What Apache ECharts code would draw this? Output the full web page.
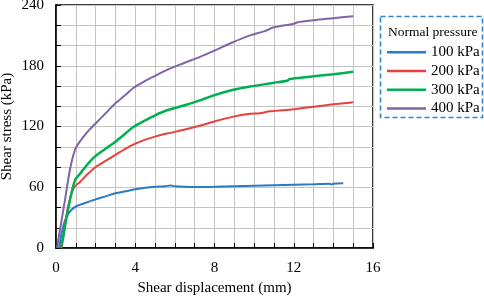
<!DOCTYPE html>
<html>
<head>
<meta charset="utf-8">
<script src="https://cdn.jsdelivr.net/npm/echarts@6/dist/echarts.min.js"></script>
<style>
  html, body { margin: 0; padding: 0; background: #fff; }
  #chart { width: 484px; height: 298px; }
</style>
</head>
<body>
<div id="chart"></div>
<script>
var seriesNames = ['100 kPa', '200 kPa', '300 kPa', '400 kPa'];

var disp100 = [0.15, 0.3, 0.45, 0.6, 0.8, 1.0, 1.4, 2.0, 2.5, 3.0, 3.5, 4.0, 4.5, 5.0, 5.5, 5.8, 6.0, 6.5, 7.0, 8.0, 9.0, 10.0, 11.0, 12.0, 13.0, 13.8, 13.9, 14.0, 14.5];
var stress100 = [0, 16, 27, 33, 38, 41, 44, 48, 51, 54, 56, 58, 59.5, 60.5, 61, 61.8, 61, 60.5, 60.3, 60.5, 61, 61.5, 62, 62.5, 63, 63.5, 62.8, 63.5, 64];

var disp200 = [0.28, 0.4, 0.54, 0.7, 0.8, 0.96, 1.2, 1.6, 2, 2.5, 3, 3.5, 4, 4.5, 5, 5.6, 6.5, 7.3, 8, 8.9, 9.8, 10.3, 10.8, 12, 13, 14, 15];
var stress200 = [0, 15, 34, 48, 55, 61, 65, 73, 80, 86, 92, 98, 103, 107, 110, 113, 117, 121, 125, 129.5, 132.5, 133, 135, 137, 139.5, 142, 144];

var disp300 = [0.2, 0.3, 0.45, 0.7, 0.96, 1.2, 1.6, 2, 2.5, 3, 3.5, 3.9, 4.5, 5, 5.6, 6.5, 7.3, 8, 8.9, 9.8, 10.95, 11.7, 11.8, 12.7, 14, 15];
var stress300 = [0, 5, 21, 47, 67, 73, 83, 91, 98, 105, 113, 119.5, 126, 131, 136, 141, 146, 151, 156, 159.5, 163, 165.5, 167, 169, 171.7, 174];

var disp400 = [0.05, 0.2, 0.45, 0.7, 0.96, 1.2, 1.6, 2, 2.5, 3, 3.5, 3.9, 4.5, 5, 5.6, 6.5, 7.3, 8, 8.9, 9.8, 10.5, 11, 12, 12.2, 13, 14, 15];
var stress400 = [0, 18, 47, 77, 97, 105, 115, 123, 133, 143, 151, 158, 165, 170, 176, 183, 189, 195, 203, 210, 214, 218, 221.5, 223, 225, 227, 229];

var colors = ['#2a7bc6', '#e8413c', '#00b050', '#8064a8'];

function pairs(xs, ys) {
  return xs.map(function(x, i) { return [x, ys[i]]; });
}

var font = 'Liberation Serif';
var myChart = echarts.init(document.getElementById('chart'));

function curve(i, width, xs, ys) {
  return {
    name: seriesNames[i], type: 'line', symbol: 'none',
    smooth: 0.3,
    lineStyle: { width: width }, data: pairs(xs, ys)
  };
}

var option = {
  animation: false,
  color: colors,
  grid: {
    left: 56, top: 5, right: 111, bottom: 50,
    outerBoundsMode: 'none', containLabel: false,
    show: true, borderColor: '#000', borderWidth: 1.5
  },
  legend: {
    orient: 'vertical',
    left: 387, top: 43,
    padding: 0,
    icon: 'rect',
    itemWidth: 39, itemHeight: 2.5, itemGap: 0,
    textStyle: { fontFamily: font, fontSize: 15, color: '#000', lineHeight: 18.7 },
    data: seriesNames
  },
  graphic: [{
    type: 'rect',
    shape: { x: 380.5, y: 16.5, width: 102, height: 101 },
    style: { fill: 'none', stroke: '#2e86d0', lineWidth: 1.6, lineDash: [5, 3] }
  }, {
    type: 'text',
    left: 388, top: 25,
    style: { text: 'Normal pressure', font: '13.5px "Liberation Serif"', fill: '#000' }
  }],
  xAxis: {
    type: 'value', min: 0, max: 16, interval: 1,
    name: 'Shear displacement (mm)', nameLocation: 'middle', nameGap: 33,
    nameMoveOverlap: false,
    nameTextStyle: { fontFamily: font, fontSize: 15, color: '#000' },
    axisLine: { lineStyle: { color: '#000', width: 1.5 } },
    axisTick: { inside: true, length: 5, lineStyle: { color: '#000', width: 1 } },
    axisLabel: {
      fontFamily: font, fontSize: 15, color: '#000', margin: 13,
      formatter: function(v) { return v % 4 === 0 ? v : ''; }
    },
    splitLine: { lineStyle: { color: '#c4c4c4', width: 1 } }
  },
  yAxis: {
    type: 'value', min: 0, max: 240, interval: 20,
    name: 'Shear stress (kPa)', nameLocation: 'middle', nameGap: 41,
    nameMoveOverlap: false,
    nameTextStyle: { fontFamily: font, fontSize: 15, color: '#000' },
    axisLine: { show: true, lineStyle: { color: '#000', width: 1.5 } },
    axisTick: { show: true, inside: true, length: 5, lineStyle: { color: '#000', width: 1 } },
    axisLabel: {
      fontFamily: font, fontSize: 15, color: '#000', margin: 12,
      formatter: function(v) { return v % 60 === 0 ? v : ''; }
    },
    splitLine: { lineStyle: { color: '#c4c4c4', width: 1 } }
  },
  series: [
    curve(0, 2, disp100, stress100),
    curve(1, 2, disp200, stress200),
    curve(2, 2.5, disp300, stress300),
    curve(3, 2, disp400, stress400)
  ]
};
myChart.setOption(option);
</script>
</body>
</html>
